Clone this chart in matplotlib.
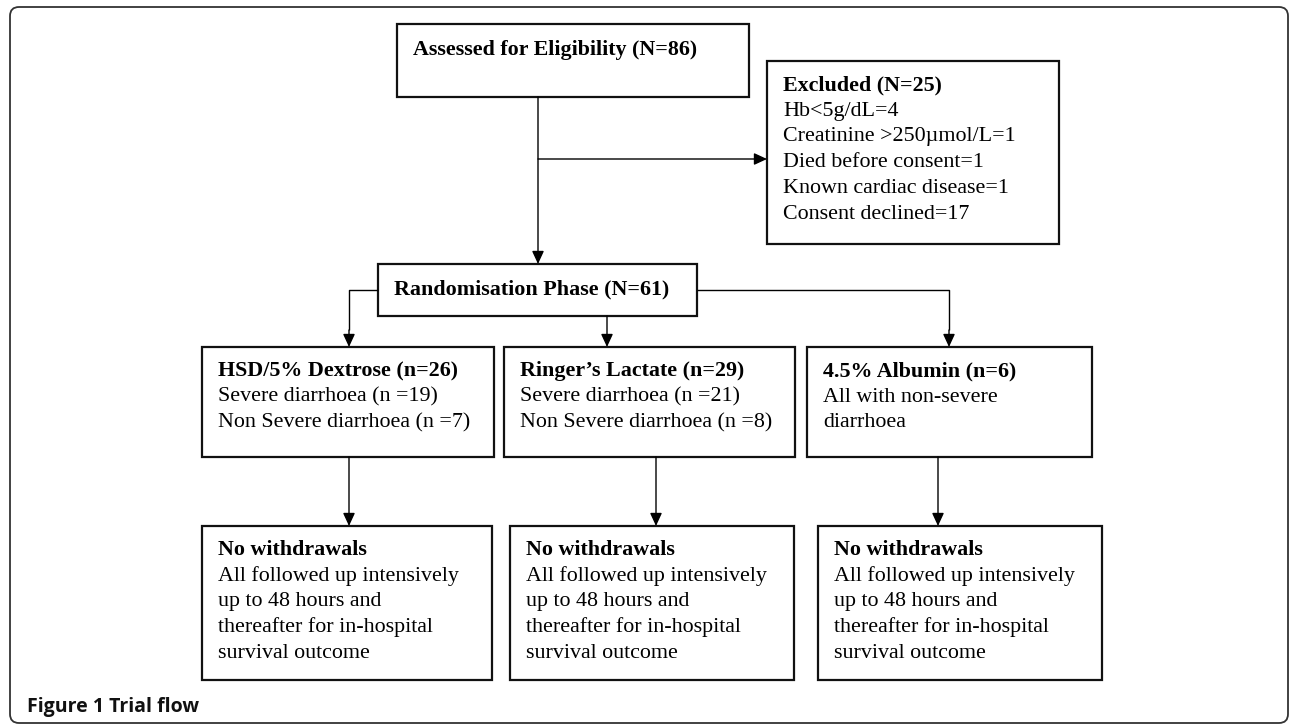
import matplotlib
matplotlib.use("Agg")
import matplotlib.pyplot as plt
from matplotlib.patches import Rectangle, FancyBboxPatch

# box texts: first line is bold, the rest regular
assessed_title = "Assessed for Eligibility (N=86)"
random_title = "Randomisation Phase (N=61)"
excluded_title = "Excluded (N=25)"
excluded_lines = ["Hb<5g/dL=4", "Creatinine >250\u00b5mol/L=1", "Died before consent=1",
                  "Known cardiac disease=1", "Consent declined=17"]
arm_titles = ["HSD/5% Dextrose (n=26)", "Ringer\u2019s Lactate (n=29)", "4.5% Albumin (n=6)"]
arm_lines = [["Severe diarrhoea (n =19)", "Non Severe diarrhoea (n =7)"],
             ["Severe diarrhoea (n =21)", "Non Severe diarrhoea (n =8)"],
             ["All with non-severe", "diarrhoea"]]
followup_title = "No withdrawals"
followup_lines = ["All followed up intensively", "up to 48 hours and",
                  "thereafter for in-hospital", "survival outcome"]
caption = "Figure 1 Trial flow"

SERIF = "Liberation Serif"
FS = 15.8
LINE = 25.7

fig = plt.figure(figsize=(12.9, 7.25), dpi=100)
ax = fig.add_axes([0, 0, 1, 1])
ax.set_xlim(0, 1290)
ax.set_ylim(725, 0)
ax.axis("off")

# outer rounded frame
ax.add_patch(FancyBboxPatch((10, 7), 1278, 716, boxstyle="round,pad=0,rounding_size=9",
                            fill=False, ec="#333333", lw=1.3))


def box(x0, y0, x1, y1, title, lines=(), title_off=29):
    ax.add_patch(Rectangle((x0, y0), x1 - x0, y1 - y0, fill=False, ec="#111111", lw=1.6))
    ax.text(x0 + 16, y0 + title_off, title, family=SERIF, fontsize=FS,
            fontweight="bold", va="baseline", ha="left")
    for i, s in enumerate(lines):
        ax.text(x0 + 16, y0 + title_off + LINE * (i + 1), s, family=SERIF, fontsize=FS,
                va="baseline", ha="left")


def line(pts):
    xs, ys = zip(*pts)
    ax.plot(xs, ys, color="black", lw=1.0, solid_capstyle="butt")


def arrow(p0, p1):
    ax.annotate("", xy=p1, xytext=p0,
                arrowprops=dict(arrowstyle="-|>,head_length=0.65,head_width=0.3",
                                mutation_scale=12, lw=1.0, color="black",
                                shrinkA=0, shrinkB=0))


box(397, 24, 749, 97, assessed_title, title_off=31)
box(767, 61, 1059, 244, excluded_title, excluded_lines)
box(378, 264, 697, 316, random_title, title_off=30)

arm_x = [(202, 494), (504, 795), (807, 1092)]
for (x0, x1), t, ls in zip(arm_x, arm_titles, arm_lines):
    box(x0, 347, x1, 457, t, ls)

foot_x = [(202, 492), (510, 794), (818, 1102)]
for x0, x1 in foot_x:
    box(x0, 526, x1, 680, followup_title, followup_lines)

# connectors
arrow((538, 97), (538, 264))
arrow((538, 159), (767, 159))
line([(378, 290), (349, 290), (349, 330)])
arrow((349, 330), (349, 347))
arrow((607, 316), (607, 347))
line([(697, 290), (949, 290), (949, 330)])
arrow((949, 330), (949, 347))
for xa in [349, 656, 938]:
    arrow((xa, 457), (xa, 526))

ax.text(27, 707, caption, family=["Open Sans", "DejaVu Sans"], fontsize=14,
        fontweight="bold", va="center", ha="left", color="#111111")

fig.savefig("out.png", dpi=100)
